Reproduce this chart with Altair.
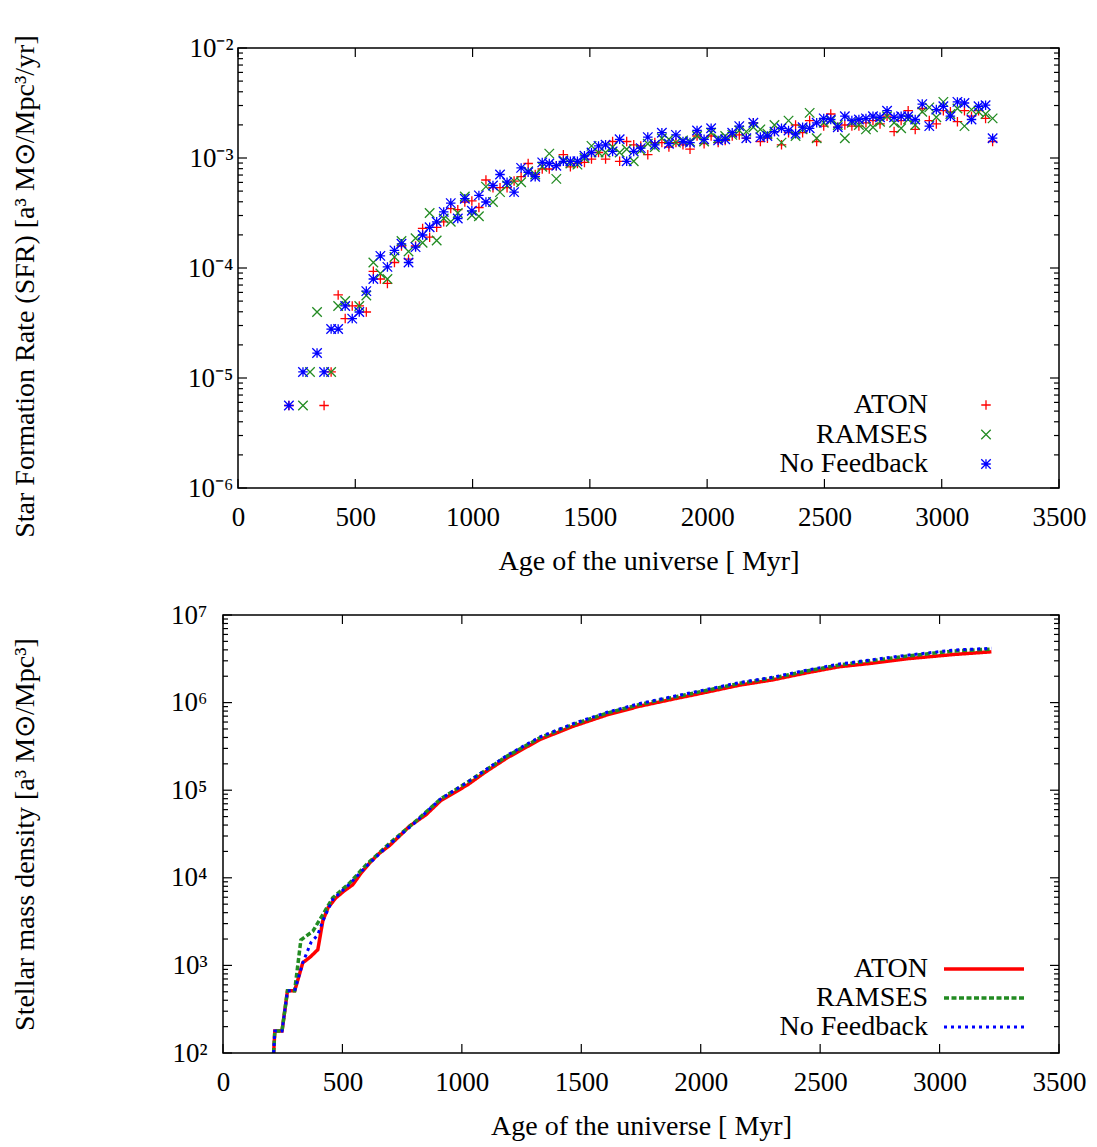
import altair as alt
import pandas as pd

FONT = "Liberation Serif"

SERIES = ["ATON", "RAMSES", "No Feedback"]
COLORS = ["#ff0000", "#228b22", "#0000ff"]

# ---- Star formation rate (top panel), time in Myr, log10(SFR) ----
SFR_TIME = [217, 247, 277, 307, 337, 367, 397, 427, 457, 487, 517, 547, 577, 607, 637, 667, 697, 727, 757, 787,
            817, 847, 877, 907, 937, 967, 997, 1027, 1057, 1087, 1117, 1147, 1177, 1207, 1237, 1267, 1297, 1327,
            1357, 1387, 1417, 1447, 1477, 1507, 1537, 1567, 1597, 1627, 1657, 1687, 1717, 1747, 1777, 1807, 1837,
            1867, 1897, 1927, 1957, 1987, 2017, 2047, 2077, 2107, 2137, 2167, 2197, 2227, 2257, 2287, 2317, 2347,
            2377, 2407, 2437, 2467, 2497, 2527, 2557, 2587, 2617, 2647, 2677, 2707, 2737, 2767, 2797, 2827, 2857,
            2887, 2917, 2947, 2977, 3007, 3037, 3067, 3097, 3127, 3157, 3187, 3217]

SFR_ATON_LOG = [-5.25, None, None, None, None, -5.25, -4.945, -4.245, -4.46, -4.345,
                -4.345, -4.40, -4.03, -4.10, -4.14, -3.95, -3.80, -3.92, -3.80, -3.64,
                -3.72, -3.63, -3.58, -3.46, -3.47, -3.40, -3.39, -3.45, -3.20, -3.27,
                -3.27, -3.27, -3.21, -3.17, -3.05, -3.15, -3.10, -3.10, -3.07, -2.97,
                -3.08, -3.05, -3.04, -3.01, -2.95, -3.01, -2.85, -3.03, -2.85, -2.88,
                -2.89, -2.97, -2.86, -2.86, -2.90, -2.86, -2.88, -2.92, -2.80, -2.87,
                -2.80, -2.86, -2.84, -2.80, -2.79, -2.82, -2.68, -2.85, -2.82, -2.76,
                -2.88, -2.77, -2.70, -2.77, -2.66, -2.85, -2.71, -2.60, -2.72, -2.70,
                -2.71, -2.71, -2.68, -2.66, -2.69, -2.62, -2.76, -2.66, -2.57, -2.74,
                -2.55, -2.66, -2.69, -2.57, -2.58, -2.67, -2.57, -2.62, -2.57, -2.64,
                -2.85]

SFR_RAMSES_LOG = [None, None, -5.25, -4.945, -4.40, None, -4.945, -4.345, -4.30, None,
                  -4.345, -4.25, -3.95, -4.05, -4.10, -3.90, -3.755, -3.85, -3.73, -3.77,
                  -3.50, -3.75, -3.55, -3.58, -3.50, -3.35, -3.52, -3.53, -3.26, -3.40,
                  -3.31, -3.25, -3.21, -3.22, -3.12, -3.15, -3.08, -2.96, -3.19, -3.02,
                  -3.05, -3.06, -3.00, -2.89, -2.95, -2.95, -2.90, -2.95, -2.92, -3.03,
                  -2.93, -2.87, -2.90, -2.82, -2.83, -2.86, -2.84, -2.85, -2.80, -2.85,
                  -2.77, -2.82, -2.80, -2.79, -2.75, -2.76, -2.72, -2.74, -2.78, -2.70,
                  -2.86, -2.66, -2.80, -2.74, -2.59, -2.82, -2.68, -2.66, -2.70, -2.82,
                  -2.68, -2.70, -2.74, -2.72, -2.67, -2.62, -2.68, -2.73, -2.65, -2.70,
                  -2.58, -2.54, -2.63, -2.49, -2.60, -2.55, -2.71, -2.56, -2.58, -2.60,
                  -2.64]

SFR_NOFB_LOG = [-5.25, None, -4.945, None, -4.773, -4.945, -4.555, -4.555, -4.345, -4.46,
                -4.40, -4.21, -4.10, -3.89, -3.99, -3.84, -3.78, -3.95, -3.81, -3.70,
                -3.63, -3.58, -3.49, -3.41, -3.55, -3.37, -3.48, -3.34, -3.40, -3.25,
                -3.15, -3.22, -3.31, -3.09, -3.13, -3.17, -3.04, -3.05, -3.07, -3.03,
                -3.03, -3.03, -2.98, -2.95, -2.89, -2.88, -2.94, -2.83, -3.03, -2.94,
                -2.91, -2.81, -2.88, -2.77, -2.87, -2.79, -2.85, -2.86, -2.75, -2.83,
                -2.73, -2.84, -2.83, -2.77, -2.71, -2.82, -2.68, -2.81, -2.80, -2.76,
                -2.73, -2.75, -2.78, -2.72, -2.73, -2.68, -2.64, -2.65, -2.72, -2.62,
                -2.66, -2.65, -2.64, -2.62, -2.63, -2.57, -2.63, -2.62, -2.62, -2.65,
                -2.51, -2.71, -2.56, -2.53, -2.62, -2.49, -2.50, -2.65, -2.53, -2.52,
                -2.82]

# ---- Stellar mass density (bottom panel), time in Myr, log10(density) ----
MASS_ATON_TIME = [212, 217, 247, 270, 300, 334, 367, 397, 418, 440, 472, 507, 543, 577, 614, 650, 698, 740,
                  781, 850, 911, 1023, 1100, 1190, 1328, 1466, 1608, 1746, 1884, 2026, 2164, 2302, 2443, 2581,
                  2719, 2861, 3062, 3217]
MASS_ATON_LOG = [2.0, 2.25, 2.25, 2.71, 2.71, 3.03, 3.10, 3.18, 3.51, 3.66, 3.77, 3.85, 3.92, 4.05, 4.17, 4.27,
                 4.37, 4.48, 4.59, 4.72, 4.88, 5.06, 5.21, 5.37, 5.58, 5.73, 5.86, 5.96, 6.04, 6.12, 6.20, 6.26,
                 6.34, 6.41, 6.45, 6.50, 6.55, 6.58]

MASS_RAMSES_TIME = [212, 217, 247, 270, 300, 326, 376, 418, 459, 530, 600, 700, 800, 911, 1023, 1190, 1328, 1466,
                    1608, 1746, 1884, 2026, 2164, 2302, 2443, 2581, 2719, 2861, 3062, 3217]
MASS_RAMSES_LOG = [2.0, 2.25, 2.25, 2.71, 2.71, 3.29, 3.39, 3.58, 3.77, 3.94, 4.15, 4.40, 4.63, 4.90, 5.09, 5.39,
                   5.60, 5.75, 5.88, 5.98, 6.06, 6.14, 6.22, 6.28, 6.36, 6.43, 6.48, 6.53, 6.59, 6.61]

MASS_NOFB_TIME = [212, 217, 247, 270, 300, 334, 368, 397, 418, 459, 530, 600, 700, 800, 911, 1023, 1190, 1328,
                  1466, 1608, 1746, 1884, 2026, 2164, 2302, 2443, 2581, 2719, 2861, 3062, 3217]
MASS_NOFB_LOG = [2.0, 2.25, 2.25, 2.71, 2.71, 3.03, 3.26, 3.35, 3.51, 3.75, 3.93, 4.13, 4.39, 4.62, 4.90, 5.09,
                 5.40, 5.61, 5.76, 5.89, 5.99, 6.07, 6.15, 6.23, 6.29, 6.37, 6.44, 6.49, 6.54, 6.60, 6.62]

# ---- axes ----
X_TICKS = [0, 500, 1000, 1500, 2000, 2500, 3000, 3500]
SFR_EXPONENTS = [-6, -5, -4, -3, -2]
MASS_EXPONENTS = [2, 3, 4, 5, 6, 7]

W = 836            # common group width; top panel's frame is inset on the left
TOP_INSET = 15
H1, H2 = 440, 438
MAJOR_LEN, MINOR_LEN = 9, 5
LABEL_SIZE, TITLE_SIZE, LEGEND_SIZE = 27, 28, 28

SUP = {"-": "\u207b", "0": "\u2070", "1": "\u00b9", "2": "\u00b2", "3": "\u00b3", "4": "\u2074",
       "5": "\u2075", "6": "\u2076", "7": "\u2077", "8": "\u2078", "9": "\u2079"}


def sup(n):
    return "".join(SUP[c] for c in str(n))


def log_label_expr(exps):
    expr = f"'10{sup(exps[-1])}'"
    for e in reversed(exps[:-1]):
        expr = f"datum.value < {10 ** (e + 0.5):.6g} ? '10{sup(e)}' : " + expr
    return expr


def sfr_frame(logs):
    return pd.DataFrame([{"t": t, "v": 10 ** l} for t, l in zip(SFR_TIME, logs) if l is not None])


def mass_frame(times, logs):
    return pd.DataFrame({"t": times, "v": [10 ** l for l in logs]})


def x_axis(x0, width):
    return alt.Axis(values=X_TICKS, format="d", title="Age of the universe [ Myr]", ticks=False, tickSize=0,
                    domain=False, grid=False, labelFont=FONT, labelFontSize=LABEL_SIZE, labelColor="black",
                    labelPadding=16, labelFlush=False, labelOverlap=False,
                    titleFont=FONT, titleFontSize=TITLE_SIZE, titleFontWeight="normal", titleColor="black",
                    titlePadding=17, titleX=(x0 + width) / 2)


def y_axis(exps, title, label_pad, title_pad, x0, title_y=None):
    kw = dict(values=[10.0 ** e for e in exps], labelExpr=log_label_expr(exps), title=title, ticks=False,
              tickSize=0, domain=False, grid=False, labelFont=FONT, labelFontSize=LABEL_SIZE, labelColor="black",
              labelPadding=label_pad, labelFlush=False, labelOverlap=False, minExtent=100, maxExtent=100,
              titleFont=FONT, titleFontSize=TITLE_SIZE, titleFontWeight="normal", titleColor="black",
              titlePadding=title_pad)
    if x0:
        kw["offset"] = -x0
    if title_y is not None:
        kw["titleY"] = title_y
    return alt.Axis(**kw)


def panel(exps, ydomain, yaxis, x0, width, height, data_layers, legend_layers):
    xs = alt.Scale(domain=[0, 3500], range=[x0, width], nice=False, zero=False)
    ys = alt.Scale(type="log", domain=ydomain, nice=False)
    X = alt.X("t:Q", scale=xs, axis=x_axis(x0, width))
    Y = alt.Y("v:Q", scale=ys, axis=yaxis)

    majors = [10.0 ** e for e in exps]
    minors = [k * 10.0 ** e for e in exps[:-1] for k in range(2, 10)]
    layers = [mk(X, Y) for mk in data_layers]
    # frame
    one = pd.DataFrame({"k": [0]})
    layers.append(alt.Chart(one).mark_rect(fillOpacity=0, stroke="black", strokeWidth=1.5).encode(
        x=alt.value(x0), x2=alt.value(width), y=alt.value(0), y2=alt.value(height)))
    # inward ticks on all four sides (mirrored)
    ymaj = pd.DataFrame({"v": majors})
    ymin = pd.DataFrame({"v": minors})
    xmaj = pd.DataFrame({"t": X_TICKS})
    for df, ln in ((ymaj, MAJOR_LEN), (ymin, MINOR_LEN)):
        layers.append(alt.Chart(df).mark_rule(color="black", strokeWidth=1.2).encode(
            y=Y, x=alt.value(x0), x2=alt.value(x0 + ln)))
        layers.append(alt.Chart(df).mark_rule(color="black", strokeWidth=1.2).encode(
            y=Y, x=alt.value(width - ln), x2=alt.value(width)))
    layers.append(alt.Chart(xmaj).mark_rule(color="black", strokeWidth=1.2).encode(
        x=X, y=alt.value(height), y2=alt.value(height - MAJOR_LEN)))
    layers.append(alt.Chart(xmaj).mark_rule(color="black", strokeWidth=1.2).encode(
        x=X, y=alt.value(0), y2=alt.value(MAJOR_LEN)))
    layers.extend(legend_layers)
    return alt.layer(*layers).properties(width=width, height=height)


PLUS = "M-1,0L1,0M0,-1L0,1"
CROSS = "M-1,-1L1,1M-1,1L1,-1"
STAR = PLUS + CROSS
SHAPES = [PLUS, CROSS, STAR]
SFR_LOGS = [SFR_ATON_LOG, SFR_RAMSES_LOG, SFR_NOFB_LOG]
MARK_SIZE = 90


def point_layer(logs, shape, color):
    def mk(X, Y):
        return alt.Chart(sfr_frame(logs)).mark_point(shape=shape, filled=False, size=MARK_SIZE, strokeWidth=1.3,
                                                      color=color, opacity=1, clip=True).encode(x=X, y=Y)
    return mk


top_data = [point_layer(l, s, c) for l, s, c in zip(SFR_LOGS, SHAPES, COLORS)]
top_legend = []
for i, (name, shape, color) in enumerate(zip(SERIES, SHAPES, COLORS)):
    row = pd.DataFrame({"name": [name]})
    ypix = 357 + 29.5 * i
    top_legend.append(alt.Chart(row).mark_text(align="right", baseline="middle", font=FONT,
                                                fontSize=LEGEND_SIZE, color="black").encode(
        text="name:N", x=alt.value(705), y=alt.value(ypix)))
    top_legend.append(alt.Chart(row).mark_point(shape=shape, filled=False, size=MARK_SIZE, strokeWidth=1.3,
                                                 color=color, opacity=1).encode(
        x=alt.value(763), y=alt.value(ypix)))

top = panel(SFR_EXPONENTS, [1e-6, 1e-2],
            y_axis(SFR_EXPONENTS, "Star Formation Rate (SFR) [a\u00b3 M\u2299/Mpc\u00b3/yr]", 5, 99,
                   TOP_INSET, 238),
            TOP_INSET, W, H1, top_data, top_legend)

MASS = [(MASS_ATON_TIME, MASS_ATON_LOG), (MASS_RAMSES_TIME, MASS_RAMSES_LOG), (MASS_NOFB_TIME, MASS_NOFB_LOG)]
DASHES = [[1, 0], [5, 2.5], [3, 4]]
WIDTHS = [3.5, 3.5, 3.0]


def line_layer(times, logs, color, dash, width):
    def mk(X, Y):
        return alt.Chart(mass_frame(times, logs)).mark_line(color=color, strokeDash=dash, strokeWidth=width,
                                                             strokeCap="butt", clip=True).encode(
            x=X, y=Y, order="t:Q")
    return mk


bot_data = [line_layer(t, l, c, d, w) for (t, l), c, d, w in zip(MASS, COLORS, DASHES, WIDTHS)]
bot_legend = []
for i, (name, color, dash, width) in enumerate(zip(SERIES, COLORS, DASHES, WIDTHS)):
    row = pd.DataFrame({"name": [name]})
    ypix = 354 + 29 * i
    bot_legend.append(alt.Chart(row).mark_text(align="right", baseline="middle", font=FONT,
                                                fontSize=LEGEND_SIZE, color="black").encode(
        text="name:N", x=alt.value(705), y=alt.value(ypix)))
    bot_legend.append(alt.Chart(row).mark_rule(color=color, strokeDash=dash, strokeWidth=width,
                                                strokeCap="butt").encode(
        x=alt.value(721), x2=alt.value(801), y=alt.value(ypix)))

bottom = panel(MASS_EXPONENTS, [1e2, 1e7],
               y_axis(MASS_EXPONENTS, "Stellar mass density [a\u00b3 M\u2299/Mpc\u00b3]", 16, 84, 0),
               0, W, H2, bot_data, bot_legend)

chart = alt.concat(top, bottom, columns=1, spacing=24).properties(
    padding={"left": 10, "top": 33, "right": 5, "bottom": 5},
    background="white",
).configure_view(stroke="transparent")

chart.save("out.html", embed_options={"renderer": "svg", "actions": False})
